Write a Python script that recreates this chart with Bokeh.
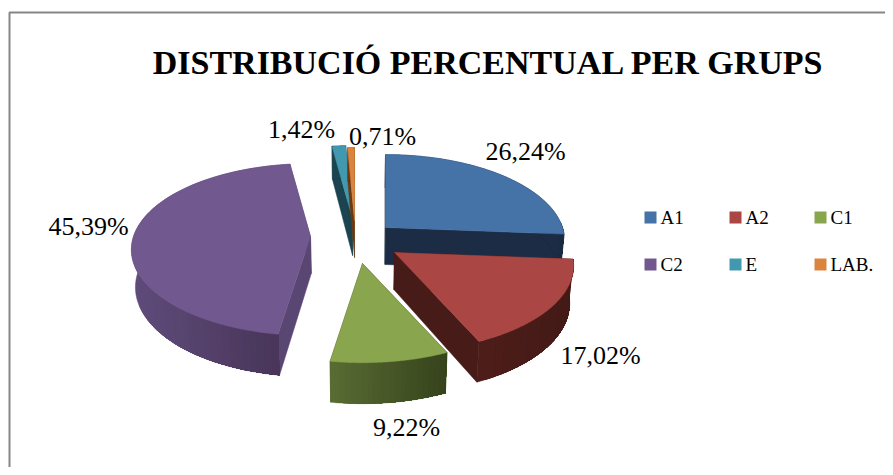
import numpy as np
from bokeh.embed import file_html
from bokeh.resources import INLINE
from bokeh.models import Range1d
from bokeh.plotting import figure
from bokeh.core.properties import value

# ---- data ----
categories = ["A1", "A2", "C1", "C2", "E", "LAB."]
values = [26.24, 17.02, 9.22, 45.39, 1.42, 0.71]
title = "DISTRIBUCIÓ PERCENTUAL PER GRUPS"

# ---- style ----
top_colors = ["#4572A7", "#AA4643", "#89A54E", "#71588F", "#4198AF", "#DB843D"]
face_colors = ["#1B2C44", "#471B17", "#39451F", "#5A4672", "#1B4450", "#6B3A12"]
rim_left = ["#1B2C44", "#4D1D19", "#586C32", "#5F4B7A", "#1B4450", "#6B3A12"]
rim_right = ["#1B2C44", "#431A16", "#36421C", "#483558", "#1B4450", "#6B3A12"]

# ---- layout (pixels of the picture) ----
W, H = 885, 467
apex_x = [385, 394, 362, 310, 352, 354]
apex_y = [227, 252, 263, 236, 218, 220]
label_x = [525, 600, 406, 88, 301, 382]
label_y = [151, 355, 427, 226, 129, 136]
legend_x = [644, 729, 814, 644, 729, 814]
legend_y = [211, 211, 211, 258, 258, 258]
draw_order = [4, 5, 0, 3, 2, 1]
R_X, R_Y, PERSP = 177.0, 84.0, 0.153
FONT = "Liberation Serif"


def hex2rgb(c):
    return np.array([int(c[i:i + 2], 16) for i in (1, 3, 5)], float)


def mix(a, b, t):
    r = hex2rgb(a) * (1 - t) + hex2rgb(b) * t
    return "#%02x%02x%02x" % tuple(int(round(v)) for v in r)


def rim_point(theta, ax, ay):
    u, v = np.sin(theta), -np.cos(theta)
    s = 1.0 / (1.0 - PERSP * v)
    return ax + R_X * u * s, ay + R_Y * v * s, v


def lower(x, y, v):
    return x - (x - 355) * 0.018, y + 37 + 4 * v


p = figure(width=W, height=H, output_backend="svg", toolbar_location=None,
           x_range=Range1d(0, W), y_range=Range1d(H, 0),
           min_border=0, outline_line_color=None, background_fill_color="white")
p.axis.visible = False
p.grid.visible = False

# frame
p.line([9, 9, W], [H, 12, 12], line_color="#868686", line_width=2)

total = sum(values)
edges = np.cumsum([0] + values) / total * 2 * np.pi

for i in draw_order:
    ax, ay = apex_x[i], apex_y[i]
    th = np.linspace(edges[i], edges[i + 1], 80)
    xs, ys, vs = rim_point(th, ax, ay)
    bx, by = lower(xs, ys, vs)
    abx, aby = lower(ax, ay, 0)
    # radial side faces
    for k in (0, -1):
        p.patch([ax, xs[k], bx[k], abx], [ay, ys[k], by[k], aby],
                fill_color=face_colors[i], line_color=face_colors[i], line_width=0.5)
    # rim: a solid base, then overlapping shaded bands that run to the slice's right end
    p.patch(np.r_[xs, bx[::-1]], np.r_[ys, by[::-1]], fill_color=rim_left[i],
            line_color=rim_left[i], line_width=0.5)
    vis = vs > -0.1
    if vis.any():
        lo, hi = xs[vis].min(), xs[vis].max()
        for t0 in np.linspace(0, 1, 22)[1:]:
            col = mix(rim_left[i], rim_right[i], float(t0))
            xcut = lo + (hi - lo) * (t0 - 0.02)
            m = vis & (xs >= xcut)
            if m.sum() >= 2:
                p.patch(np.r_[xs[m], bx[m][::-1]], np.r_[ys[m], by[m][::-1]],
                        fill_color=col, line_color=None)
    # top surface
    p.patch(np.r_[ax, xs], np.r_[ay, ys], fill_color=top_colors[i],
            line_color=top_colors[i], line_width=0.5)

# data labels
labels = [f"{v:.2f}%".replace(".", ",") for v in values]
p.text(label_x, label_y, text=labels, text_align="center", text_baseline="middle",
       text_font=value(FONT), text_font_size="26px", text_color="#000000")

# legend
p.quad(left=legend_x, right=[x + 12 for x in legend_x], top=legend_y,
       bottom=[y + 12 for y in legend_y], fill_color=top_colors, line_color=None)
p.text([x + 16 for x in legend_x], [y + 6 for y in legend_y], text=categories,
       text_align="left", text_baseline="middle", text_font=value(FONT),
       text_font_size="19px", text_color="#000000")

# title
p.text([488], [62], text=[title], text_align="center", text_baseline="middle",
       text_font=value(FONT), text_font_style="bold", text_font_size="34px",
       text_color="#000000")

open("out.html", "w").write(file_html(p, INLINE))
